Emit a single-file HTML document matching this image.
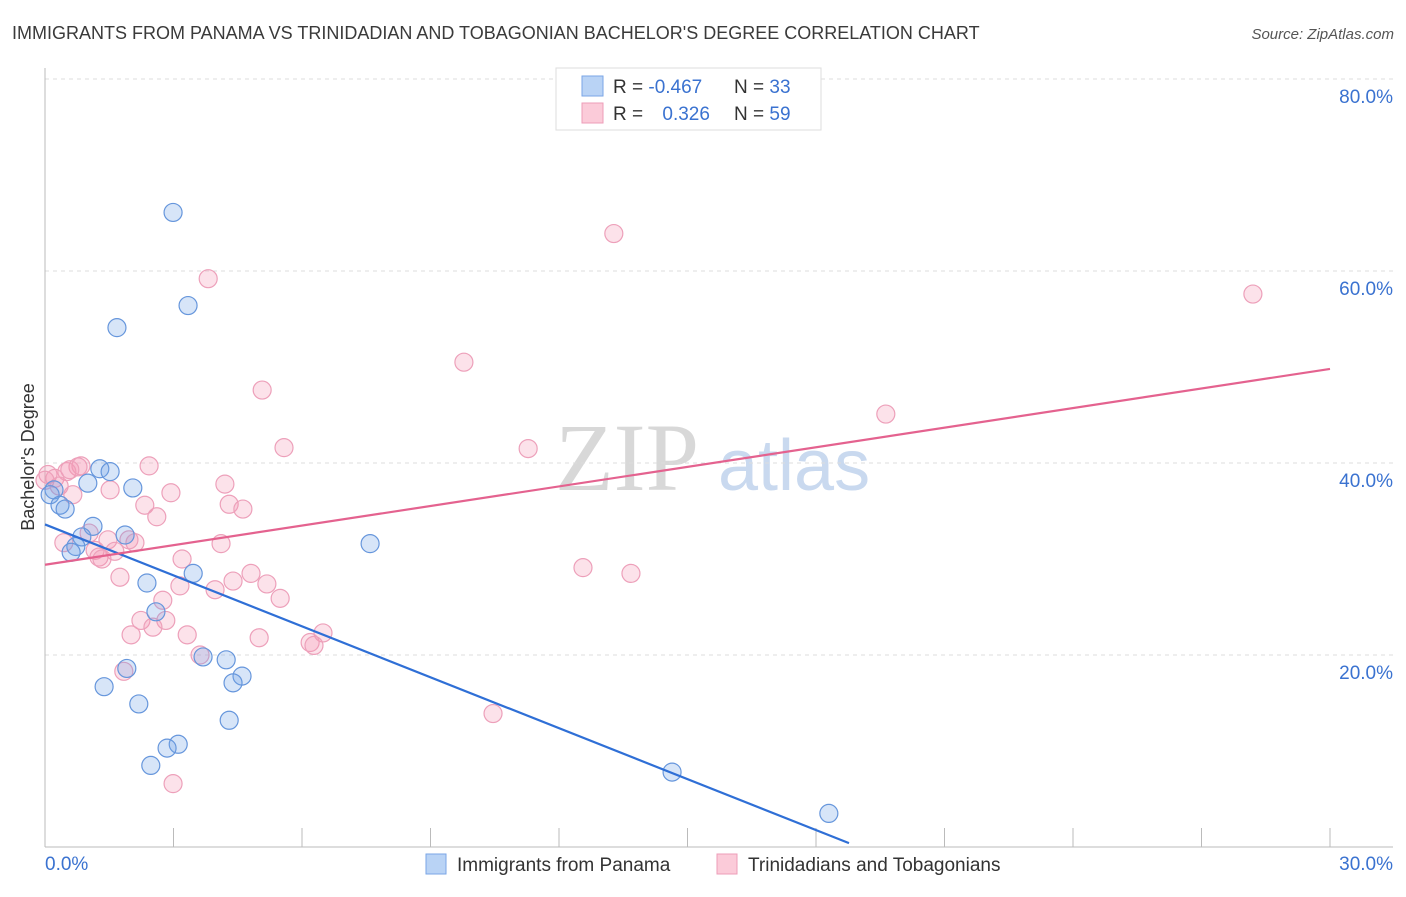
<!DOCTYPE html>
<html><head><meta charset="utf-8"><style>
body{margin:0;background:#fff;font-family:"Liberation Sans",sans-serif}
</style></head><body>
<svg id="chart" width="1406" height="892" xmlns="http://www.w3.org/2000/svg" font-family="Liberation Sans, sans-serif">
<text x="12" y="39" font-size="18" fill="#3a3a3a">IMMIGRANTS FROM PANAMA VS TRINIDADIAN AND TOBAGONIAN BACHELOR'S DEGREE CORRELATION CHART</text>
<text x="1394" y="39" font-size="15" fill="#555" text-anchor="end" font-style="italic">Source: ZipAtlas.com</text>
<g>
<text x="555" y="490" font-size="96" fill="#d8d8d8" font-family="Liberation Serif, serif">ZIP</text>
<text x="718" y="490" font-size="72" fill="#c9d9ef">atlas</text>
</g>
<g id="grid"></g>
<g id="axes"></g>
<g id="marks"></g>
<text transform="translate(34,457) rotate(-90)" font-size="18" fill="#333" text-anchor="middle">Bachelor's Degree</text>
<g>
<rect x="556" y="68" width="265" height="62" fill="#fff" stroke="#ddd"/>
<rect x="582" y="76" width="21" height="20" fill="#b9d3f5" stroke="#7aa6e6"/>
<rect x="582" y="103" width="21" height="20" fill="#fbcbd9" stroke="#ee9cb8"/>
<text x="613" y="93" font-size="19" fill="#333">R = <tspan fill="#3a72d0">-0.467</tspan></text>
<text x="734" y="93" font-size="19" fill="#333">N = <tspan fill="#3a72d0">33</tspan></text>
<text x="613" y="120" font-size="19" fill="#333">R = <tspan fill="#3a72d0" dx="14">0.326</tspan></text>
<text x="734" y="120" font-size="19" fill="#333">N = <tspan fill="#3a72d0">59</tspan></text>
</g>
<g>
<rect x="426" y="854" width="20" height="20" fill="#b9d3f5" stroke="#7aa6e6"/>
<text x="457" y="871" font-size="19" fill="#333">Immigrants from Panama</text>
<rect x="717" y="854" width="20" height="20" fill="#fbcbd9" stroke="#ee9cb8"/>
<text x="748" y="871" font-size="19" fill="#333">Trinidadians and Tobagonians</text>
</g>
</svg>
<script>
const yTicks=[20,40,60,80];
const yTickLabels=["20.0%","40.0%","60.0%","80.0%"];
const xTicks=[0,3,6,9,12,15,18,21,24,27,30];
const xTickLabels=["0.0%","30.0%"];
const panamaX=[2.99,3.34,1.68,1.28,1.52,1.00,2.05,0.21,0.12,0.35,0.47,1.12,1.87,0.86,0.72,0.61,7.59,3.46,2.38,2.59,1.91,1.38,3.69,4.23,4.60,4.39,2.19,4.30,3.11,2.85,2.47,14.64,18.30];
const panamaY=[66.1,56.4,54.1,39.4,39.1,37.9,37.4,37.2,36.7,35.6,35.2,33.4,32.5,32.3,31.3,30.7,31.6,28.5,27.5,24.5,18.6,16.7,19.8,19.5,17.8,17.1,14.9,13.2,10.7,10.3,8.5,7.8,3.5];
const trinX=[13.28,3.81,28.20,9.78,5.07,19.63,5.58,11.28,2.43,0.84,0.77,0.51,0.58,0.07,0.23,0.0,0.33,4.20,0.65,1.52,2.94,2.33,4.30,4.62,2.61,1.03,0.44,1.47,2.10,1.96,4.11,1.17,1.26,1.63,1.33,3.20,1.75,4.81,4.39,3.15,5.18,3.97,5.49,2.75,2.24,2.82,2.52,6.49,2.01,3.32,5.00,6.19,6.28,3.62,1.84,12.56,13.68,10.46,2.99];
const trinY=[63.9,59.2,57.6,50.5,47.6,45.1,41.6,41.5,39.7,39.7,39.6,39.1,39.3,38.8,38.4,38.2,37.6,37.8,36.7,37.2,36.9,35.6,35.7,35.2,34.4,32.7,31.7,32.0,31.7,32.0,31.6,30.9,30.2,30.8,30.0,30.0,28.1,28.5,27.7,27.2,27.4,26.8,25.9,25.7,23.6,23.6,22.9,22.3,22.1,22.1,21.8,21.3,21.0,20.0,18.3,29.1,28.5,13.9,6.6];
const panamaTrendX=[0,18.77];
const panamaTrendY=[33.6,0.4];
const trinTrendX=[0,30];
const trinTrendY=[29.4,49.8];

const NS="http://www.w3.org/2000/svg";
const X0=45,X1=1330,Y0=847,PXY=9.6;
function sx(v){return X0+v/30*(X1-X0);}
function sy(v){return Y0-v*PXY;}
function mk(tag,attrs,parent){const e=document.createElementNS(NS,tag);for(const k in attrs)e.setAttribute(k,attrs[k]);parent.appendChild(e);return e;}
const grid=document.getElementById('grid'),axes=document.getElementById('axes'),marks=document.getElementById('marks');
yTicks.forEach((t,i)=>{
  const l=mk('line',{x1:45,x2:1393,y1:sy(t),y2:sy(t),stroke:'#ddd','stroke-dasharray':'4,4'},grid);
  
  
  const tx=mk('text',{x:1393,y:sy(t)+24,'font-size':19,fill:'#3a72d0','text-anchor':'end'},axes);
  tx.textContent=yTickLabels[i];
  
  
});
const ax=mk('line',{x1:45,x2:45,y1:68,y2:847,stroke:'#bbb'},axes);


const bx=mk('line',{x1:45,x2:1393,y1:847,y2:847,stroke:'#bbb'},axes);


xTicks.forEach(t=>{
  const l=mk('line',{x1:sx(t),x2:sx(t),y1:828,y2:847,stroke:'#bbb'},axes);
  
  
});
const xl0=mk('text',{x:45,y:870,'font-size':19,fill:'#3a72d0'},axes);
xl0.textContent=xTickLabels[0];


const xl1=mk('text',{x:1393,y:870,'font-size':19,fill:'#3a72d0','text-anchor':'end'},axes);
xl1.textContent=xTickLabels[1];



trinX.forEach((v,i)=>{
  const c=mk('circle',{cx:sx(v),cy:sy(trinY[i]),r:9,fill:'rgba(244,150,180,0.28)',stroke:'#eda0ba','stroke-width':1.2},marks);
  
  
});
panamaX.forEach((v,i)=>{
  const c=mk('circle',{cx:sx(v),cy:sy(panamaY[i]),r:9,fill:'rgba(110,160,230,0.28)',stroke:'#6696dc','stroke-width':1.2},marks);
  
  
});
const tl1=mk('line',{x1:sx(panamaTrendX[0]),y1:sy(panamaTrendY[0]),x2:sx(panamaTrendX[1]),y2:sy(panamaTrendY[1]),stroke:'#2f6fd6','stroke-width':2.2},marks);


const tl2=mk('line',{x1:sx(trinTrendX[0]),y1:sy(trinTrendY[0]),x2:sx(trinTrendX[1]),y2:sy(trinTrendY[1]),stroke:'#e4628f','stroke-width':2.2},marks);


</script>
</body></html>
